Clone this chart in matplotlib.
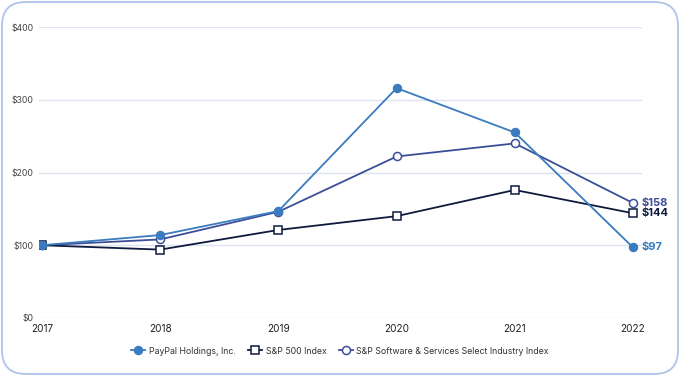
import matplotlib
matplotlib.use("Agg")
import matplotlib.pyplot as plt
from matplotlib.patches import FancyBboxPatch

years = [2017, 2018, 2019, 2020, 2021, 2022]
paypal = [100, 114, 147, 316, 255, 97]
sp500 = [100, 94, 121, 140, 176, 144]
software = [100, 108, 146, 222, 240, 158]
y_ticks = [0, 100, 200, 300, 400]
y_labels = ["$0", "$100", "$200", "$300", "$400"]

C_PAYPAL = "#3b7bbf"
C_SP500 = "#0f1b3d"
C_SOFT = "#3d4e98"

plt.rcParams["font.family"] = ["Inter", "DejaVu Sans"]

fig = plt.figure(figsize=(6.8, 3.76), dpi=100)
fig.patch.set_facecolor("white")

# rounded card border
border = FancyBboxPatch((2 / 680, 2 / 376), 676 / 680, 372 / 376,
                        boxstyle="round,pad=0,rounding_size=0.035",
                        transform=fig.transFigure, facecolor="none",
                        edgecolor="#b5c6ea", linewidth=1.4, zorder=0,
                        mutation_aspect=680 / 376)
fig.patches.append(border)

ax = fig.add_axes([39 / 680, 58 / 376, (642 - 39) / 680, (318 - 27) / 376])
ax.set_facecolor("none")

ax.plot(years, software, color=C_SOFT, lw=1.3, marker="o", ms=5.8,
        mfc="white", mec=C_SOFT, mew=1.1, zorder=3,
        label="S&P Software & Services Select Industry Index")
ax.plot(years, sp500, color=C_SP500, lw=1.3, marker="s", ms=5.3,
        mfc="white", mec=C_SP500, mew=1.1, zorder=3, label="S&P 500 Index")
ax.plot(years, paypal, color=C_PAYPAL, lw=1.3, marker="o", ms=5.8,
        mfc=C_PAYPAL, mec=C_PAYPAL, zorder=4, label="PayPal Holdings, Inc.")

# end value labels
for vals, col in [(software, C_SOFT), (sp500, C_SP500), (paypal, C_PAYPAL)]:
    ax.annotate(f"${vals[-1]}", (years[-1], vals[-1]), xytext=(6.5, 0),
                textcoords="offset points", ha="left", va="center",
                fontsize=8, fontweight="bold", color=col,
                annotation_clip=False)

ax.set_xlim(2016.975, 2022.076)
ax.set_ylim(0, 400)
ax.set_yticks(y_ticks)
ax.set_yticklabels(y_labels)
ax.set_xticks(years)
ax.set_xticklabels([str(y) for y in years])
ax.tick_params(axis="y", length=0, pad=4, labelsize=6.3, labelcolor="#444444")
ax.tick_params(axis="x", length=0, pad=4, labelsize=7.2, labelcolor="#222222")
ax.grid(True, axis="y", color="#dde3f1", lw=1)
ax.set_axisbelow(True)
for s in ax.spines.values():
    s.set_visible(False)

h, l = ax.get_legend_handles_labels()
order = [2, 1, 0]
fig.legend([h[i] for i in order], [l[i] for i in order], loc="center",
           bbox_to_anchor=(340 / 680, 1 - 351 / 376), ncol=3, frameon=False,
           fontsize=6.3, handlelength=1.6, columnspacing=1.4, handletextpad=0.4,
           labelcolor="#333333")

fig.savefig("out.png", dpi=100)
